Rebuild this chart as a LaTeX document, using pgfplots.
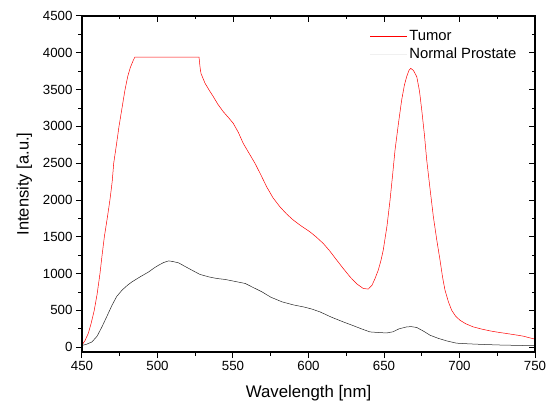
\documentclass[border=0pt]{standalone}
\usepackage{fontspec}
\setmainfont{Liberation Sans}
\usepackage{pgfplots}
\pgfplotsset{compat=1.18}
\begin{document}
\begin{tikzpicture}
\pgfplotsset{
  common/.style={scale only axis, width=453pt, height=336pt,
    xmin=450, xmax=750, ymin=-65, ymax=4500,
    xtick={450,500,...,750}, ytick={0,500,...,4500},
    minor x tick num=1, minor y tick num=1,
    major tick length=6pt, minor tick length=3.5pt,
    axis line style={line width=1.2pt},
    every tick/.style={black, line width=1pt},
    scaled y ticks=false,
    /pgf/number format/assume math mode=true,
    /pgf/number format/set thousands separator={},
    tick label style={font=\fontsize{13.3}{15}\selectfont},
  }
}
\begin{axis}[common,
  xtick pos=lower, ytick pos=left, tick align=outside,
  xlabel={Wavelength [nm]}, ylabel={Intensity [a.u.]},
  xlabel style={font=\fontsize{16.8}{18}\selectfont, yshift=-8pt},
  ylabel style={font=\fontsize{16.5}{18}\selectfont, yshift=4pt},
  legend style={at={(0.635,0.968)}, anchor=north west, draw=none, fill=none,
    font=\fontsize{14.8}{16}\selectfont, row sep=-1pt, inner sep=0pt,
    nodes={inner xsep=2pt, inner ysep=3.5pt}},
  legend cell align=left,
  legend image code/.code={\draw[mark repeat=2,mark phase=2] plot coordinates {(0pt,0pt) (18pt,0pt) (37pt,0pt)};},
]
\addplot[red, line width=0.5pt] coordinates {
(450,30) (452,90) (454.2,190) (456,320) (458.1,500) (460,720) (461.9,1000)
(463.3,1250) (464.8,1500) (466.7,1750) (468.5,2000) (470,2250) (471,2500)
(472.8,2750) (474.5,3000) (476.5,3250) (478.5,3500) (480.3,3680) (482,3800)
(484,3900) (485,3940) (527.5,3940) (528.2,3800) (528.8,3720) (531.5,3585)
(534,3500) (537,3403) (540,3300) (543.6,3199) (547,3120) (550.2,3041)
(553.5,2920) (556.8,2769) (560.5,2640) (564.6,2497) (568.5,2340) (572.3,2179)
(576.5,2030) (581.1,1907) (585.5,1810) (590,1726) (595,1650) (601,1567)
(605,1500) (609.8,1409) (614,1310) (618.7,1183) (623,1070) (627.5,956)
(632,860) (636.3,798) (639.6,790) (642,840) (644,930) (646.2,1047)
(648,1180) (649.5,1319) (652,1650) (654,1998) (655.7,2340) (657.3,2678)
(659.5,3030) (661.7,3358) (663.5,3560) (665,3675) (666.5,3760) (667.7,3789)
(669.5,3760) (671.7,3675) (673.5,3480) (675,3222) (676.7,2900) (678.3,2542)
(680.5,2150) (682.7,1771) (685,1450) (687.1,1183) (688.8,950) (690.4,775)
(692.6,620) (694.8,503) (697.5,420) (700.3,367) (704,320) (709.1,276)
(715,245) (720.2,222) (725,205) (731.3,186) (737,168) (742.3,150)
(746,130) (750,110)
};
\addlegendentry{Tumor}
\addplot[black!85, line width=0.5pt, forget plot] coordinates {
(450,25) (453,40) (456.6,72) (460,150) (463.2,276) (466.5,420) (469.9,571)
(473,690) (476.5,775) (480,840) (483.1,888) (488,950) (494.2,1024)
(498,1080) (500.8,1115) (504,1150) (507.4,1173) (510,1165) (514,1146)
(518,1100) (522.8,1047) (528,990) (533.9,956) (539,935) (544.9,920)
(551,895) (558.1,866) (563,815) (569.2,752) (575,680) (582.5,616)
(590,575) (596.6,548) (602,520) (607.6,480) (615,410) (623,344)
(630,290) (635,250) (640.7,208) (646,200) (651.8,194) (656,210)
(660,250) (665,276) (668,280) (671.7,268) (676,220) (680.5,163)
(686,120) (691.5,86) (698,55) (707,45) (715,38) (726.8,30) (738,25)
(750,20)
};
\addlegendimage{black!6, line width=0.5pt}
\addlegendentry{Normal Prostate}
\end{axis}
\begin{axis}[common,
  xtick pos=upper, ytick pos=right, tick align=inside,
  xticklabels={}, yticklabels={},
]
\end{axis}
\pgfresetboundingbox
\useasboundingbox (-82pt,-50pt) rectangle (475pt,352pt);
\end{tikzpicture}
\end{document}
